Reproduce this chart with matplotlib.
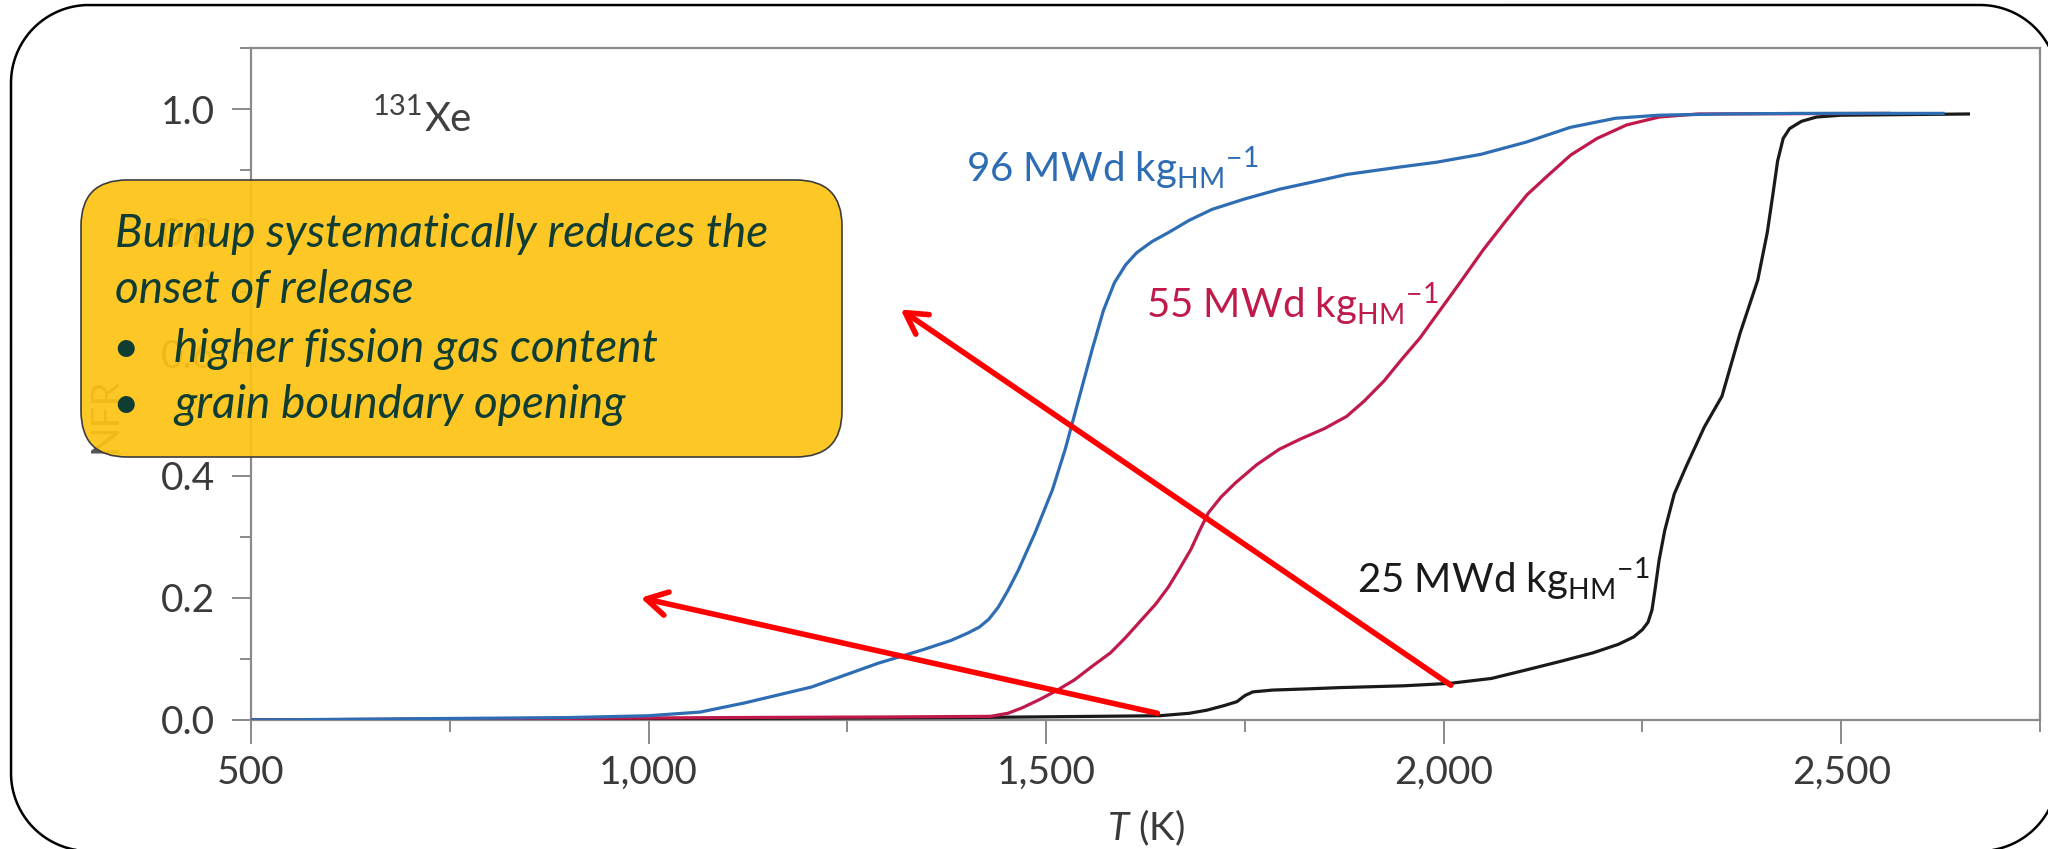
import numpy as np
import matplotlib
matplotlib.use("Agg")
import matplotlib.pyplot as plt
from matplotlib.patches import FancyBboxPatch, PathPatch
from matplotlib.path import Path
from matplotlib.ticker import MultipleLocator, FuncFormatter
from matplotlib.transforms import Affine2D

# ---- data: fractional 131Xe release (NFR) vs temperature ----
t_96 = [500, 700, 900, 1000, 1065, 1121, 1205, 1289, 1345, 1380, 1401, 1416, 1428, 1440,
        1452, 1465, 1486, 1508, 1524, 1541, 1558, 1572, 1586, 1600, 1614, 1633, 1654,
        1680, 1709, 1750, 1794, 1840, 1878, 1944, 1991, 2047, 2104, 2159, 2216, 2271,
        2350, 2450, 2628]
nfr_96 = [0.0, 0.002, 0.004, 0.007, 0.013, 0.028, 0.054, 0.093, 0.115, 0.13, 0.142, 0.152, 0.165, 0.185,
          0.212, 0.245, 0.306, 0.377, 0.443, 0.525, 0.607, 0.67, 0.716, 0.745, 0.765, 0.783, 0.798,
          0.818, 0.836, 0.853, 0.869, 0.882, 0.893, 0.905, 0.913, 0.926, 0.946, 0.97, 0.985, 0.99,
          0.992, 0.993, 0.993]

t_55 = [500, 800, 1100, 1300, 1430, 1452, 1470, 1491, 1513, 1536, 1558, 1581, 1600,
        1620, 1638, 1654, 1668, 1682, 1693, 1704, 1720, 1738, 1765, 1793, 1820, 1850,
        1878, 1900, 1925, 1947, 1970, 1995, 2020, 2050, 2080, 2105, 2130, 2160, 2193, 2230,
        2271, 2320, 2560]
nfr_55 = [0.0, 0.002, 0.004, 0.005, 0.006, 0.011, 0.02, 0.033, 0.048, 0.066, 0.088, 0.11, 0.135,
          0.164, 0.19, 0.218, 0.248, 0.279, 0.31, 0.339, 0.365, 0.388, 0.418, 0.443, 0.46, 0.477,
          0.497, 0.522, 0.555, 0.59, 0.625, 0.67, 0.715, 0.77, 0.82, 0.86, 0.89, 0.925, 0.952, 0.974,
          0.987, 0.992, 0.993]

t_25 = [500, 1000, 1400, 1643, 1680, 1702, 1725, 1740, 1750, 1760, 1785, 1830, 1869,
        1950, 2008, 2060, 2104, 2150, 2188, 2220, 2239, 2250, 2257, 2262, 2266, 2271, 2278, 2290,
        2305, 2328, 2350, 2373, 2395, 2407, 2414, 2420, 2427, 2435, 2450, 2469, 2500, 2660]
nfr_25 = [0.0, 0.002, 0.004, 0.007, 0.011, 0.016, 0.024, 0.03, 0.04, 0.046, 0.049, 0.051, 0.053,
          0.056, 0.06, 0.068, 0.082, 0.097, 0.11, 0.124, 0.136, 0.148, 0.16, 0.18, 0.215, 0.262, 0.31, 0.37,
          0.415, 0.48, 0.53, 0.634, 0.72, 0.798, 0.86, 0.915, 0.952, 0.968, 0.98, 0.987, 0.99, 0.992]

series_labels = ["96 MWd kg$_{\\mathregular{HM}}$$^{\\mathregular{-1}}$",
                 "55 MWd kg$_{\\mathregular{HM}}$$^{\\mathregular{-1}}$",
                 "25 MWd kg$_{\\mathregular{HM}}$$^{\\mathregular{\u22121}}$"]
series_colors = ["#2e6db3", "#c01a4b", "#1a1a1a"]

callout_lines = ["Burnup systematically reduces the", "onset of release"]
callout_bullets = ["higher fission gas content", "grain boundary opening"]

# arrows: (tail T, tail NFR) -> (head T, head NFR)
arrows = [((1640, 0.011), (990, 0.20)),
          ((2009, 0.057), (1317, 0.672))]

# ---- styling ----
plt.rcParams["font.family"] = ["Lato", "DejaVu Sans"]
plt.rcParams["mathtext.fontset"] = "custom"
plt.rcParams["mathtext.rm"] = "Lato"
plt.rcParams["mathtext.it"] = "Lato:italic"
plt.rcParams["mathtext.default"] = "regular"

W, H = 2048, 849
fig = plt.figure(figsize=(W / 100, H / 100), dpi=100)
pix = Affine2D().scale(1 / W, 1 / H) + fig.transFigure


def fy(y):
    return H - y


ax = fig.add_axes([251 / W, fy(720) / H, (2040 - 251) / W, (720 - 48) / H])

spine_col = "#8a8a8a"
text_col = "#3a3a3a"

ax.plot(t_25, nfr_25, color=series_colors[2], lw=2.3, zorder=3)
ax.plot(t_55, nfr_55, color=series_colors[1], lw=2.3, zorder=4)
ax.plot(t_96, nfr_96, color=series_colors[0], lw=2.3, zorder=5)

ax.set_xlim(500, 2750)
ax.set_ylim(0.0, 1.1)

for s in ax.spines.values():
    s.set_color(spine_col)
    s.set_linewidth(1.6)

ax.xaxis.set_major_locator(MultipleLocator(500))
ax.xaxis.set_minor_locator(MultipleLocator(250))
ax.yaxis.set_major_locator(MultipleLocator(0.2))
ax.yaxis.set_minor_locator(MultipleLocator(0.1))
ax.xaxis.set_major_formatter(FuncFormatter(lambda v, p: f"{int(round(v)):,}"))
ax.yaxis.set_major_formatter(FuncFormatter(lambda v, p: f"{v:.1f}"))

ax.tick_params(axis="x", which="major", direction="out", length=17, width=1.4,
               color=spine_col, labelsize=28, labelcolor=text_col, pad=8)
ax.tick_params(axis="x", which="minor", direction="out", length=8.5, width=1.4, color=spine_col)
ax.tick_params(axis="y", which="major", direction="out", length=14, width=1.4,
               color=spine_col, labelsize=28, labelcolor=text_col, pad=12)
ax.tick_params(axis="y", which="minor", direction="out", length=8, width=1.4, color=spine_col)

ax.set_xlabel("$\\mathit{T}$ (K)", fontsize=28, color=text_col)
ax.xaxis.set_label_coords(0.5, (fy(840) - fy(720)) / 672)
ax.xaxis.label.set_verticalalignment("baseline")
ax.set_ylabel("NFR", fontsize=28, color="#555555")
ax.yaxis.set_label_coords((105 - 251) / 1789, (fy(415) - fy(720)) / 672)
ax.yaxis.label.set_verticalalignment("center")

# curve labels
label_pos = [(966, 182), (1146, 318), (1357, 593)]
for (lx, ly), lab, col in zip(label_pos, series_labels, series_colors):
    fig.text(lx, fy(ly), lab, transform=pix, fontsize=29, color=col,
             ha="left", va="baseline")

# isotope label
fig.text(373, fy(115), "131", transform=pix, fontsize=21, color="#404040", va="baseline")
fig.text(425, fy(131), "Xe", transform=pix, fontsize=29, color="#404040", va="baseline")

# arrows
for (tail, head) in arrows:
    ax.annotate("", xy=head, xytext=tail,
                arrowprops=dict(arrowstyle="->,head_length=1.5,head_width=0.85",
                                color="#ff0000", lw=4, shrinkA=0, shrinkB=0),
                zorder=8)

# callout box drawn above the axes
box = FancyBboxPatch((81, fy(457)), 842 - 81, 457 - 180,
                     boxstyle="round,pad=0,rounding_size=46",
                     transform=pix, facecolor="#fdc314", alpha=0.93,
                     edgecolor="none", zorder=10)
fig.add_artist(box)
box_edge = FancyBboxPatch((81, fy(457)), 842 - 81, 457 - 180,
                          boxstyle="round,pad=0,rounding_size=46",
                          transform=pix, facecolor="none",
                          edgecolor="#3c3c3c", linewidth=1.2, zorder=10)
fig.add_artist(box_edge)

callout_col = "#0f3d34"
callout_kw = dict(transform=pix, fontsize=33, color=callout_col, style="italic",
                  va="baseline", ha="left", zorder=11)
for y, line in zip([247, 303], callout_lines):
    fig.text(115, fy(y), line, **callout_kw)
for y, line in zip([362, 418], callout_bullets):
    fig.text(112, fy(y), "\u2022", transform=pix, fontsize=33, color=callout_col,
             va="baseline", ha="left", zorder=11)
    fig.text(174, fy(y), line, **callout_kw)


# slide frame: rounded rectangle with circular corners, in pixel coordinates
def rounded_rect(x0, y0, x1, y1, r, n=40):
    pts = []
    corners = [(x1 - r, y0 + r, -90, 0), (x1 - r, y1 - r, 0, 90),
               (x0 + r, y1 - r, 90, 180), (x0 + r, y0 + r, 180, 270)]
    for cx, cy, a0, a1 in corners:
        a = np.radians(np.linspace(a0, a1, n))
        pts.extend(zip(cx + r * np.cos(a), cy + r * np.sin(a)))
    pts.append(pts[0])
    return Path(np.array(pts))


frame = PathPatch(rounded_rect(11, fy(851), 2058, fy(5), 78), transform=pix,
                  facecolor="none", edgecolor="black", linewidth=1.8, zorder=20)
fig.add_artist(frame)

fig.savefig("out.png", dpi=100)
